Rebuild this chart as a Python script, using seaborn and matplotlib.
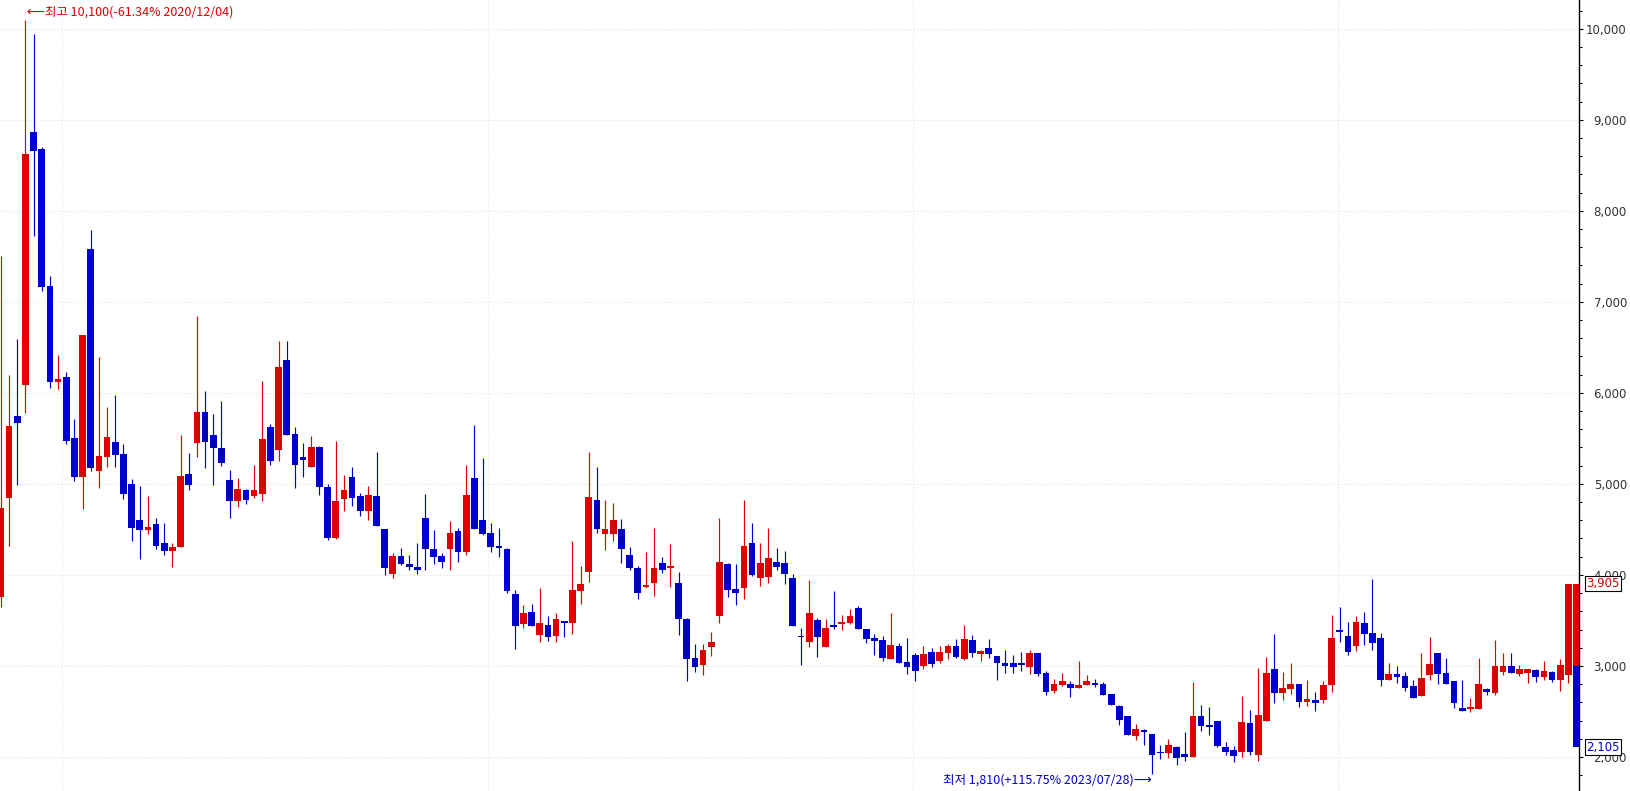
import matplotlib
matplotlib.use('Agg')
import matplotlib.pyplot as plt
import matplotlib.transforms as mtransforms
from matplotlib.ticker import MultipleLocator, FuncFormatter
import numpy as np
import pandas as pd
import seaborn as sns

# weekly candles (index 0 = left edge)
opens = [3752, 4848, 5743, 6091, 8865, 8678, 7174, 6122, 6174, 5500,
         5078, 7578, 5143, 5296, 5457, 5326, 4996, 4600, 4496, 4557,
         4348, 4265, 4310, 5114, 5447, 5795, 5542, 5399, 5048, 4810,
         4938, 4864, 4886, 5630, 5370, 6366, 5553, 5300, 5183, 5410,
         4971, 4403, 4832, 5081, 4872, 4700, 4872, 4509, 4007, 4212,
         4125, 4092, 4630, 4289, 4212, 4282, 4487, 4249, 5070, 4608,
         4465, 4322, 4290, 3795, 3458, 3597, 3337, 3454, 3326, 3498,
         3469, 3821, 4029, 4828, 4447, 4447, 4502, 4223, 4081, 3864,
         3908, 4136, 4073, 3916, 3520, 3092, 3007, 3205, 3546, 4125,
         3842, 3853, 4355, 3963, 3974, 4147, 4136, 3971, 3326, 3260,
         3509, 3205, 3454, 3465, 3476, 3641, 3410, 3311, 3289, 3081,
         3223, 3048, 3125, 3004, 3158, 3059, 3147, 3223, 3081, 3289,
         3136, 3201, 3114, 3037, 3037, 3037, 2991, 3143, 2923, 2725,
         2791, 2802, 2758, 2791, 2813, 2802, 2692, 2560, 2451, 2231,
         2297, 2253, 2055, 2044, 2110, 2033, 2002, 2454, 2355, 2399,
         2114, 2081, 2059, 2377, 2026, 2399, 2971, 2707, 2751, 2806,
         2608, 2630, 2630, 2795, 3399, 3333, 3223, 3476, 3366, 3311,
         2850, 2916, 2894, 2784, 2674, 2905, 3147, 2927, 2839, 2542,
         2531, 2531, 2751, 2707, 2938, 3004, 2916, 2927, 2960, 2883,
         2938, 2846, 2905]
highs = [7504, 6200, 6591, 10100, 9943, 8700, 7283, 6413, 6226, 5709,
         6635, 7787, 6391, 5843, 5978, 5439, 5057, 4978, 4870, 4622,
         4565, 4348, 5540, 5344, 6839, 6015, 5773, 5916, 5158, 5070,
         4949, 5212, 6125, 5663, 6575, 6575, 5630, 5454, 5531, 5421,
         5000, 5476, 5103, 5187, 4901, 4982, 5355, 4509, 4245, 4300,
         4223, 4355, 4894, 4498, 4238, 4597, 4520, 5212, 5652, 5289,
         4575, 4520, 4297, 3832, 3674, 3685, 3861, 3553, 3586, 3498,
         4377, 4103, 5355, 5190, 4828, 4795, 4619, 4311, 4103, 4256,
         4520, 4201, 4344, 4037, 3531, 3245, 3245, 3377, 4630, 4136,
         4125, 4828, 4575, 4355, 4520, 4300, 4267, 4015, 3421, 3949,
         3531, 3520, 3828, 3564, 3630, 3663, 3410, 3355, 3333, 3586,
         3256, 3311, 3147, 3223, 3201, 3223, 3245, 3300, 3454, 3344,
         3179, 3300, 3114, 3179, 3125, 3158, 3178, 3143, 2945, 2857,
         2923, 2835, 3055, 2901, 2857, 2824, 2692, 2571, 2451, 2363,
         2308, 2253, 2132, 2198, 2121, 2275, 2824, 2575, 2553, 2399,
         2168, 2125, 2674, 2520, 2982, 3103, 3355, 2938, 3037, 2806,
         2850, 2718, 2839, 3564, 3652, 3487, 3553, 3597, 3960, 3366,
         3037, 3004, 2938, 2850, 3147, 3322, 3147, 3092, 2839, 2850,
         2652, 3092, 2762, 3289, 3147, 3147, 3015, 2971, 2971, 3059,
         2949, 3071, 3905]
lows = [3643, 4317, 4991, 5783, 7726, 7122, 6057, 6043, 5443, 5035,
        4726, 5143, 4957, 5187, 5187, 4839, 4378, 4174, 4448, 4287,
        4217, 4091, 4310, 4938, 5293, 5172, 4985, 5194, 4623, 4744,
        4777, 4842, 4810, 5212, 5256, 5535, 4952, 5073, 5183, 4875,
        4381, 4392, 4700, 4762, 4645, 4608, 4535, 3996, 3963, 4106,
        4051, 4007, 4051, 4121, 4073, 4051, 4139, 4216, 4509, 4443,
        4249, 4194, 3799, 3183, 3414, 3436, 3260, 3271, 3260, 3315,
        3348, 3678, 3919, 4458, 4271, 4370, 4128, 4051, 3733, 3853,
        3766, 4018, 3864, 3337, 2832, 2930, 2897, 3106, 3469, 3755,
        3667, 3733, 3985, 3875, 3908, 4051, 3897, 3436, 3007, 3205,
        3095, 3205, 3403, 3392, 3465, 3403, 3256, 3125, 3059, 3081,
        3037, 2916, 2839, 2971, 2993, 3037, 3081, 3092, 3070, 3103,
        3059, 3092, 2850, 2927, 2927, 2949, 2914, 2890, 2681, 2703,
        2780, 2659, 2758, 2791, 2769, 2681, 2571, 2352, 2242, 2187,
        2132, 1810, 1978, 1989, 1912, 1956, 2002, 2289, 2245, 2114,
        2026, 1949, 2004, 2026, 1960, 2399, 2597, 2630, 2696, 2553,
        2564, 2509, 2597, 2718, 3267, 3125, 3168, 3234, 3179, 2784,
        2850, 2817, 2729, 2652, 2674, 2850, 2806, 2806, 2542, 2509,
        2498, 2531, 2685, 2685, 2905, 2927, 2894, 2817, 2828, 2850,
        2828, 2725, 2813]
closes = [4730, 5635, 5670, 8626, 8661, 7165, 6122, 6148, 5474, 5078,
          6635, 5174, 5304, 5513, 5317, 4891, 4517, 4496, 4522, 4317,
          4265, 4304, 5085, 4985, 5795, 5465, 5392, 5227, 4810, 4949,
          4821, 4938, 5498, 5249, 6289, 5535, 5205, 5260, 5410, 4963,
          4403, 4817, 4938, 4842, 4700, 4883, 4535, 4073, 4212, 4117,
          4084, 4051, 4282, 4194, 4139, 4465, 4249, 4883, 4509, 4454,
          4304, 4293, 3821, 3436, 3586, 3436, 3476, 3315, 3520, 3469,
          3839, 3905, 4861, 4502, 4502, 4608, 4282, 4073, 3799, 3894,
          4081, 4051, 4103, 3513, 3073, 2985, 3179, 3267, 4147, 3832,
          3799, 4322, 3996, 4136, 4190, 4084, 4007, 3436, 3315, 3586,
          3315, 3421, 3425, 3487, 3553, 3403, 3300, 3278, 3092, 3234,
          3037, 2993, 2949, 3136, 3026, 3158, 3223, 3103, 3300, 3147,
          3168, 3136, 3037, 3004, 2993, 3015, 3145, 2912, 2714, 2802,
          2835, 2758, 2791, 2835, 2791, 2681, 2571, 2407, 2242, 2308,
          2275, 2022, 2044, 2132, 1989, 2000, 2455, 2344, 2333, 2125,
          2059, 2015, 2388, 2059, 2465, 2927, 2707, 2762, 2806, 2608,
          2641, 2597, 2795, 3311, 3377, 3158, 3487, 3355, 3256, 2850,
          2916, 2883, 2762, 2652, 2872, 3026, 2916, 2806, 2597, 2509,
          2553, 2806, 2718, 3004, 3004, 2927, 2971, 2971, 2883, 2949,
          2850, 3011, 3905]

# current (last, half hidden) candle: red part and blue part
last_up = [3000, 3905]
last_down = [3000, 2105]

year_marks = [7.5, 59.6, 111.7, 163.8]
y_ticks = list(range(2000, 10001, 1000))
high_note = '⟵최고 10,100(-61.34% 2020/12/04)'
low_note = '최저 1,810(+115.75% 2023/07/28)⟶'
high_idx = 3
low_idx = 141

UP = '#DD0000'
DOWN = '#0000CC'


def build_frame():
    df = pd.DataFrame({'open': opens, 'high': highs, 'low': lows, 'close': closes})
    df['x'] = np.arange(len(df))
    df['up'] = df['close'] >= df['open']
    df['color'] = np.where(df['up'], UP, DOWN)
    df['bottom'] = df[['open', 'close']].min(axis=1)
    df['height'] = (df['close'] - df['open']).abs().clip(lower=12)
    return df


def main():
    sns.set_style('white')
    plt.rcParams['font.family'] = ['Noto Sans CJK KR', 'DejaVu Sans']

    df = build_frame()
    n_last = len(df)

    fig = plt.figure(figsize=(16.3, 7.91), dpi=100)
    ax = fig.add_axes([0, 0, 1579 / 1630, 1])

    # grid
    for v in y_ticks:
        ax.axhline(v, color='#E2E2E2', ls=(0, (1, 2)), lw=0.8, zorder=0)
    for xm in year_marks:
        ax.axvline(xm, color='#E2E2E2', ls=(0, (1, 2)), lw=0.8, zorder=0)

    ax.vlines(df['x'], df['low'], df['high'], colors=df['color'], lw=0.85, zorder=2)
    ax.bar(df['x'], df['height'], bottom=df['bottom'], width=0.82,
           color=df['color'], linewidth=0, zorder=3)

    ax.bar(n_last, last_up[1] - last_up[0], bottom=last_up[0], width=0.82,
           color=UP, linewidth=0, zorder=3)
    ax.bar(n_last, last_down[0] - last_down[1], bottom=last_down[1], width=0.82,
           color=DOWN, linewidth=0, zorder=3)

    ax.set_xlim(-0.12, n_last + 0.3)
    ax.set_ylim(1626, 10316)

    # right price axis
    sns.despine(ax=ax, left=True, top=True, bottom=True, right=False)
    ax.spines['right'].set_color('black')
    ax.spines['right'].set_linewidth(1.0)
    ax.set_xticks([])
    ax.yaxis.tick_right()
    ax.set_yticks(y_ticks)
    ax.yaxis.set_minor_locator(MultipleLocator(200))
    ax.yaxis.set_major_formatter(FuncFormatter(lambda v, p: f'{int(v):,}'))
    ax.tick_params(axis='y', which='major', length=3, width=0.8, color='black',
                   labelsize=8.5, labelcolor='#333333', pad=31.5)
    ax.tick_params(axis='y', which='minor', length=2, width=0.8, color='black')
    for lab in ax.get_yticklabels():
        lab.set_ha('right')
        lab.set_family('DejaVu Sans')

    trans = mtransforms.blended_transform_factory(ax.transAxes, ax.transData)
    ax.text(1.0044, last_up[1], f'{last_up[1]:,}', transform=trans, color=UP,
            fontsize=8.5, family='DejaVu Sans', ha='left', va='center', zorder=5,
            bbox=dict(boxstyle='square,pad=0.12', fc='white', ec='black', lw=0.8))
    ax.text(1.0044, last_down[1], f'{last_down[1]:,}', transform=trans, color=DOWN,
            fontsize=8.5, family='DejaVu Sans', ha='left', va='center', zorder=5,
            bbox=dict(boxstyle='square,pad=0.12', fc='white', ec='black', lw=0.8))

    # high / low notes
    ax.text(high_idx + 0.2, 10181, high_note, color=UP, fontsize=9,
            family=['Noto Sans CJK KR', 'DejaVu Sans'], ha='left', va='center')
    ax.text(low_idx - 0.05, 1747, low_note, color=DOWN, fontsize=9,
            family=['Noto Sans CJK KR', 'DejaVu Sans'], ha='right', va='center')

    fig.savefig('out.png', dpi=100)
    plt.close(fig)


if __name__ == "__main__":
    main()
